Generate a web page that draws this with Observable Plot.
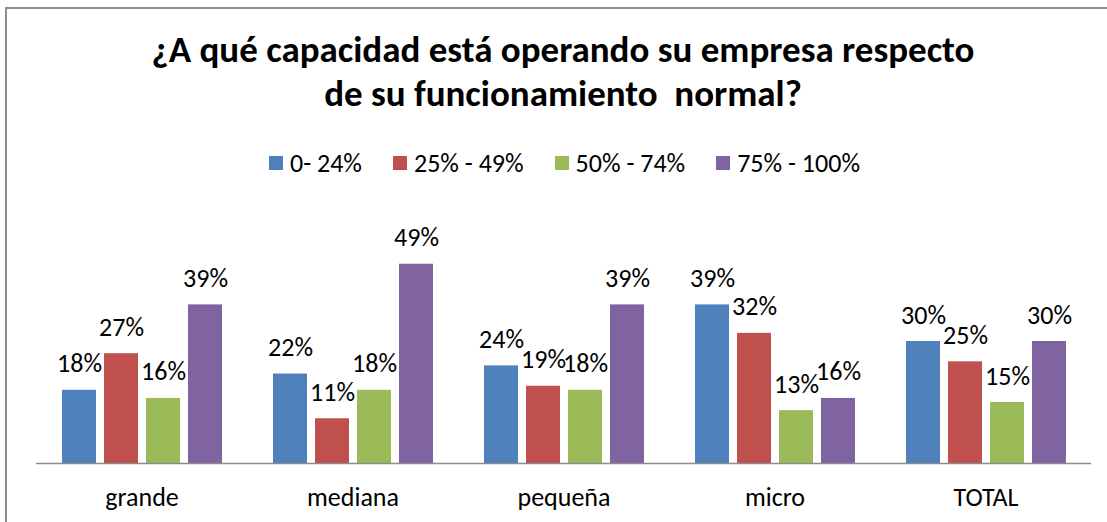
<!DOCTYPE html>
<html><head><meta charset="utf-8">
<script src="https://cdn.jsdelivr.net/npm/d3@7"></script>
<script src="https://cdn.jsdelivr.net/npm/@observablehq/plot@0.6"></script>
<style>
body{margin:0;width:1107px;height:522px;overflow:hidden;background:#fff;font-family:Calibri,Carlito,Lato,sans-serif;position:relative;color:#000}
#frame{position:absolute;left:5px;top:7px;width:1200px;height:600px;border-left:2px solid #8c8c8c;border-top:2px solid #8c8c8c}
#title{position:absolute;left:0;top:28px;width:1126px;text-align:center;font-weight:bold;font-size:37px;line-height:44px}
#legend{position:absolute;left:269px;top:148px;display:flex;gap:31px;font-size:26px;line-height:30px}
.item{display:flex;align-items:center;gap:7px}
.sw{width:14px;height:14px;display:inline-block}
#chart{position:absolute;left:0;top:200px}
</style></head>
<body>
<div id="frame"></div>
<div id="title">¿A qué capacidad está operando su empresa respecto<br>de su funcionamiento&nbsp; normal?</div>
<div id="legend"></div>
<div id="chart"></div>
<script>
const categories = ["grande", "mediana", "pequeña", "micro", "TOTAL"];
const series = ["0- 24%", "25% - 49%", "50% - 74%", "75% - 100%"];
const s0_24 = [18, 22, 24, 39, 30];
const s25_49 = [27, 11, 19, 32, 25];
const s50_74 = [16, 18, 18, 13, 15];
const s75_100 = [39, 49, 39, 16, 30];
const colors = ["#4F81BD", "#C0504D", "#9BBB59", "#8064A2"];

const seriesValues = [s0_24, s25_49, s50_74, s75_100];
const data = [];
categories.forEach((c, i) => {
  series.forEach((s, j) => data.push({cat: c, series: s, value: seriesValues[j][i]}));
});

const legend = document.getElementById("legend");
series.forEach((s, j) => {
  const it = document.createElement("div");
  it.className = "item";
  it.innerHTML = `<span class="sw" style="background:${colors[j]}"></span><span>${s}</span>`;
  legend.appendChild(it);
});

const font = "Calibri, Carlito, Lato, sans-serif";
const chart = Plot.plot({
  width: 1107, height: 322,
  marginLeft: 35, marginRight: 15, marginTop: 19, marginBottom: 59,
  fx: {domain: categories, padding: 0, label: null},
  x: {domain: series, axis: null, paddingInner: 0.196, paddingOuter: 0.598},
  y: {domain: [0, 60], axis: null},
  color: {domain: series, range: colors},
  style: {fontFamily: font, color: "#000", background: "transparent", overflow: "visible"},
  marks: [
    Plot.barY(data, {fx: "cat", x: "series", y: "value", fill: "series"}),
    Plot.text(data, {fx: "cat", x: "series", y: "value", text: d => d.value + "%", lineAnchor: "bottom", dy: -18, fontSize: 26, fill: "#000"}),
    Plot.ruleY([0], {stroke: "#8c8c8c", strokeWidth: 1.5}),
    Plot.axisFx({anchor: "bottom", tickSize: 0, tickPadding: 24, fontSize: 26, label: null})
  ]
});
document.getElementById("chart").appendChild(chart);
</script>
</body></html>
